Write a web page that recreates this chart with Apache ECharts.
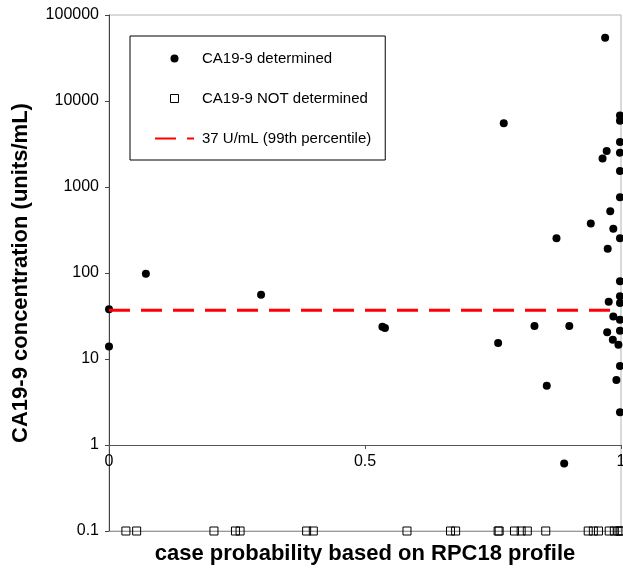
<!DOCTYPE html>
<html>
<head>
<meta charset="utf-8">
<script src="https://cdn.jsdelivr.net/npm/echarts@6/dist/echarts.min.js"></script>
<style>
html,body{margin:0;padding:0;background:#fff}
#chart{width:623px;height:568px}
</style>
</head>
<body>
<div id="chart"></div>
<script>
// CA19-9 determined: case probability / concentration (units/mL)
let detX=[0,0,0.072,0.297,0.534,0.539,0.760,0.771,0.831,0.855,0.874,0.899,0.889,0.969,
    0.998,0.998,0.998,0.972,0.964,0.998,0.998,0.998,0.979,0.941,0.985,0.998,0.974,
    0.998,0.998,0.976,0.998,0.985,0.998,0.998,0.973,0.984,0.995,0.998,0.991,0.998];
let detY=[38,14,98,56,23.7,23,15.3,5500,24.2,4.9,254,24.2,0.61,54400,
    6800,5900,3340,2620,2140,2510,1530,760,524,377,326,254,192,
    80,53.5,46.4,44.8,31.3,28.6,21.3,20.4,16.7,14.6,8.3,5.7,2.4];
// CA19-9 NOT determined: plotted at the bottom level
let notX=[0.033,0.054,0.205,0.247,0.256,0.386,0.399,0.582,0.667,0.677,0.760,0.762,
    0.792,0.805,0.817,0.853,0.936,0.946,0.956,0.977,0.987,0.994,0.998,1.0];
let notLevel=0.1;
// 99th percentile cut-off
let cutX=[0,1];
let cutY=[37,37];
let yTicks=[0.1,1,10,100,1000,10000,100000];
let xTicks=[0,0.5,1];

let font='"Liberation Sans", Arial, Helvetica, sans-serif';
let names=["CA19-9 determined","CA19-9 NOT determined","37 U/mL (99th percentile)"];

let detData=detX.map((x,i)=>[x,detY[i]]);
let notData=notX.map(x=>[x,notLevel]);
let cutData=cutX.map((x,i)=>[x,cutY[i]]);

let myChart=echarts.init(document.getElementById("chart"));
let option={
    animation:false,
    textStyle:{fontFamily:font},
    grid:{left:109,right:2,top:15,bottom:37,show:true,borderColor:"#b4b4b4",borderWidth:1,outerBoundsMode:"none"},
    legend:{
        orient:"vertical",left:130,top:36,
        padding:[15,14,14,24],
        itemWidth:39,itemHeight:8,itemGap:25,
        symbolKeepAspect:true,
        borderColor:"#000",borderWidth:1,
        textStyle:{fontSize:15,color:"#000",fontFamily:font,padding:[0,0,0,3]},
        data:[
            {name:names[0],icon:"circle"},
            {name:names[1],icon:"path://M0,0H10V10H0Z",itemStyle:{borderWidth:1,borderColor:"#000",color:"rgba(0,0,0,0)"}},
            {name:names[2],itemStyle:{color:"rgba(0,0,0,0)",borderWidth:0}}
        ]
    },
    xAxis:[{
        type:"value",min:xTicks[0],max:xTicks[2],interval:0.5,
        position:"bottom",
        axisLine:{lineStyle:{color:"#9a9a9a",width:1}},
        axisTick:{show:false},axisLabel:{show:false},splitLine:{show:false},
        name:"case probability based on RPC18 profile",
        nameLocation:"middle",nameGap:12,
        nameTextStyle:{fontSize:22,fontWeight:"bold",color:"#000",fontFamily:font}
    },{
        type:"value",min:xTicks[0],max:xTicks[2],interval:0.5,
        position:"bottom",offset:-86,
        axisLine:{lineStyle:{color:"#555",width:1}},
        axisTick:{show:true,length:4,lineStyle:{color:"#555"}},
        axisLabel:{fontSize:16,color:"#000",margin:9,fontFamily:font},
        splitLine:{show:false}
    }],
    yAxis:{
        type:"log",logBase:10,min:yTicks[0],max:yTicks[yTicks.length-1],
        axisLine:{show:true,lineStyle:{color:"#444",width:1}},
        axisTick:{show:true,length:4,lineStyle:{color:"#444"}},
        minorTick:{show:false},splitLine:{show:false},
        axisLabel:{fontSize:16,color:"#000",margin:10,fontFamily:font,
            formatter:function(v){return String(Number(v.toPrecision(3)));}},
        name:"CA19-9 concentration (units/mL)",
        nameLocation:"middle",nameGap:77,nameRotate:90,
        nameTextStyle:{fontSize:22,fontWeight:"bold",color:"#000",fontFamily:font}
    },
    series:[{
        name:names[2],type:"line",data:cutData,symbol:"none",
        lineStyle:{color:"#ff0000",width:3,type:[21,11]},
        itemStyle:{color:"#ff0000"}
    },{
        name:names[0],type:"scatter",data:detData,symbol:"circle",symbolSize:8,clip:false,
        itemStyle:{color:"#000",opacity:1}
    },{
        name:names[1],type:"scatter",data:notData,symbol:"rect",symbolSize:8,clip:false,
        itemStyle:{color:"rgba(0,0,0,0)",borderColor:"#000",borderWidth:1,opacity:1}
    }]
};
myChart.setOption(option);
</script>
</body>
</html>
